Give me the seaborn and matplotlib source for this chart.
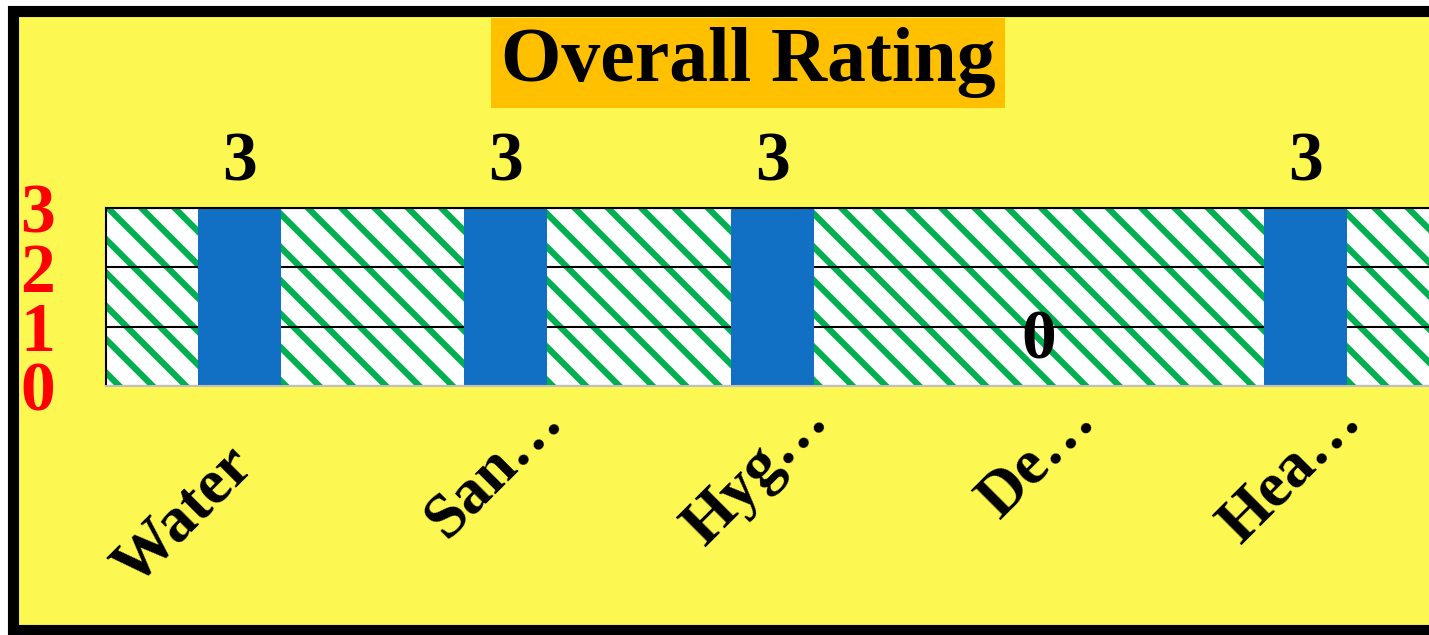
###############################################################
#-----------------------Import Modules-------------------------#
###############################################################
import matplotlib
matplotlib.use('Agg')
import matplotlib.pyplot as plt
import matplotlib.transforms as mtransforms
from matplotlib.patches import Rectangle
import pandas as pd
import seaborn as sns

###############################################################
#-----------------------Chart Data-----------------------------#
###############################################################
categorias = ['Water', 'San…', 'Hyg…', 'De…', 'Hea…']
notas = [3, 3, 3, 0, 3]
y_ticks = [0, 1, 2, 3]
titulo = 'Overall Rating'

df = pd.DataFrame({'categoria': categorias, 'nota': notas})

###############################################################
#-----------------------Style----------------------------------#
###############################################################
sns.set_style('white')
plt.rcParams['font.family'] = ['Liberation Serif', 'DejaVu Serif']
plt.rcParams['font.weight'] = 'bold'
plt.rcParams['hatch.linewidth'] = 4.5

W, H = 1429, 635
fig = plt.figure(figsize=(W / 100, H / 100), dpi=100)
fig.patch.set_facecolor('white')

# fundo amarelo com borda preta (sai pela direita)
fundo = Rectangle((13 / W, 5.5 / H), 1.2, (H - 11 - 5.5) / H,
                  transform=fig.transFigure, facecolor='#fdf752',
                  edgecolor='black', linewidth=8, zorder=-2)
fig.add_artist(fundo)

# area do grafico, largura de 6 categorias (a ultima fica fora da imagem)
passo = 266.5
ax = fig.add_axes([106 / W, 1 - 386 / H, 6 * passo / W, 178 / H])
ax.set_facecolor('none')

# hachura verde no fundo do plot
hach = Rectangle((0, 0), 1, 1, transform=ax.transAxes, facecolor='white',
                 edgecolor='#00b050', hatch='\\', linewidth=0, zorder=0.1)
if hasattr(hach, 'set_hatch_linewidth'):
    hach.set_hatch_linewidth(4.5)
ax.add_patch(hach)

###############################################################
#-----------------------Bars-----------------------------------#
###############################################################
sns.barplot(data=df, x='categoria', y='nota', color='#1170c4',
            saturation=1, width=0.31, linewidth=0, ax=ax, zorder=2)

ax.set_xlim(-0.5, 5.5)
ax.set_ylim(0, 3)
ax.set_yticks(y_ticks)
ax.set_axisbelow(True)
ax.yaxis.grid(True, color='black', linewidth=1.5, zorder=0.5)
ax.xaxis.grid(False)

ax.spines['right'].set_visible(False)
ax.spines['left'].set_color('black')
ax.spines['left'].set_linewidth(1.5)
ax.spines['top'].set_color('black')
ax.spines['top'].set_linewidth(1.5)
ax.spines['bottom'].set_color('#c0c0c0')
ax.spines['bottom'].set_linewidth(1.5)

ax.set_xlabel('')
ax.set_ylabel('')
ax.tick_params(axis='both', length=0)
ax.tick_params(axis='y', pad=49, labelsize=50, labelcolor='#ff0000')
ax.tick_params(axis='x', pad=8, labelsize=46, labelcolor='black')
for lab in ax.get_yticklabels():
    lab.set_fontweight('bold')
    lab.set_horizontalalignment('center')

# rotulos do eixo x inclinados
ax.set_xticks(range(len(categorias)))
ax.set_xticklabels(categorias, rotation=45, ha='right',
                   rotation_mode='anchor', fontweight='bold')
for i, lab in enumerate(ax.get_xticklabels()):
    dx, dy = (-15, -39) if i == 0 else (27, 6)
    off = mtransforms.ScaledTranslation(dx / 100, dy / 100, fig.dpi_scale_trans)
    lab.set_transform(lab.get_transform() + off)

# valores acima das barras
for i, v in enumerate(notas):
    ax.annotate(str(v), (i, v), xytext=(0, 20), textcoords='offset points',
                ha='center', va='baseline', fontsize=50, fontweight='bold',
                color='black', annotation_clip=False)

###############################################################
#-----------------------Title----------------------------------#
###############################################################
fig.text(748 / W, 1 - 63 / H, titulo, ha='center', va='center',
         fontsize=56, fontweight='bold', color='black',
         bbox=dict(facecolor='#ffc000', edgecolor='none',
                   boxstyle='square,pad=0.12'))

fig.savefig('out.png', dpi=100)
